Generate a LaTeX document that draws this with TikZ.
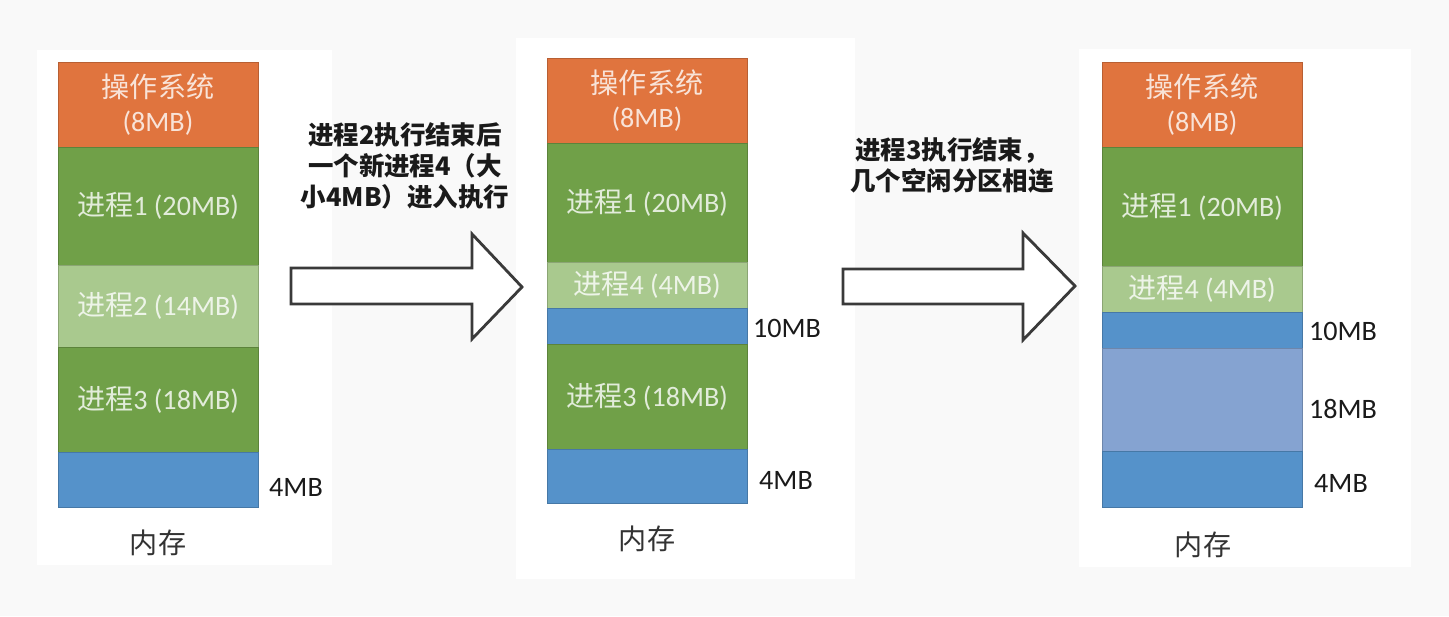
\documentclass[tikz,border=0pt]{standalone}
\usepackage{fontspec}
\setmainfont{Carlito}
\newfontfamily\cjk{Noto Sans CJK SC}
\usetikzlibrary{positioning}
\definecolor{bggray}{HTML}{F9F9F9}
\definecolor{osorange}{HTML}{E0743E}
\definecolor{procgreen}{HTML}{70A048}
\definecolor{newgreen}{HTML}{A9C98E}
\definecolor{freeblue}{HTML}{5592CA}
\definecolor{mergeblue}{HTML}{85A3D1}
\definecolor{txtdark}{HTML}{1A1A1A}
\definecolor{txtgray}{HTML}{333333}
\definecolor{arrgray}{HTML}{3A3A3A}

\newcommand{\zh}[1]{{\cjk #1}}

\begin{document}
\begin{tikzpicture}[
  x=0.02cm, y=-0.02cm,
  blk/.style={
    fill=#1, draw=#1!82!black, line width=0.3pt, outer sep=0pt,
    minimum width=4cm, inner sep=0pt, text=white, text opacity=0.8,
    align=center, font=\fontsize{16}{19.5}\selectfont
  },
  size/.style={font=\fontsize{16}{19}\selectfont, text=txtdark},
  caption/.style={font=\cjk\fontsize{16}{19}\selectfont, text=txtgray},
  note/.style={font=\cjk\bfseries\fontsize{14.5}{17.6}\selectfont,
    text=txtdark, align=center},
  bigarrow/.style={draw=arrgray, line width=1.6pt, fill=white, line join=miter},
]

% Background and panels
\fill[bggray] (0,0) rectangle (1449,616);
\fill[white] (37,50) rectangle (332,565);
\fill[white] (516,38) rectangle (855,579);
\fill[white] (1079,49) rectangle (1411,567);

% =============================================
% Memory before
% =============================================
\node[blk=osorange, minimum height=1.7cm] (os-a) at (158,104.5)
  {\zh{操作系统}\\(8MB)};
\node[blk=procgreen, minimum height=2.36cm, below=0pt of os-a] (p1-a)
  {\zh{进程}1 (20MB)};
\node[blk=newgreen, minimum height=1.64cm, below=0pt of p1-a] (p2-a)
  {\zh{进程}2 (14MB)};
\node[blk=procgreen, minimum height=2.1cm, below=0pt of p2-a] (p3-a)
  {\zh{进程}3 (18MB)};
\node[blk=freeblue, minimum height=1.1cm, below=0pt of p3-a] (free-a) {};

\node[size] (lbl4-a) at (296,487) {4MB};
\node[caption] (mem-a) at (158,543) {内存};

% Arrow 1
\node[note] (note-a) at (405,166)
  {进程2执行结束后\\一个新进程4（大\\小4MB）进入执行};
\draw[bigarrow] (291,268) -- (472,268) -- (472,234) -- (522,287)
  -- (472,339) -- (472,304) -- (291,304) -- cycle;

% =============================================
% Memory after process 4 loaded
% =============================================
\node[blk=osorange, minimum height=1.7cm] (os-b) at (647,100.5)
  {\zh{操作系统}\\(8MB)};
\node[blk=procgreen, minimum height=2.38cm, below=0pt of os-b] (p1-b)
  {\zh{进程}1 (20MB)};
\node[blk=newgreen, minimum height=0.92cm, below=0pt of p1-b] (p4-b)
  {\zh{进程}4 (4MB)};
\node[blk=freeblue, minimum height=0.72cm, below=0pt of p4-b] (free1-b) {};
\node[blk=procgreen, minimum height=2.1cm, below=0pt of free1-b] (p3-b)
  {\zh{进程}3 (18MB)};
\node[blk=freeblue, minimum height=1.08cm, below=0pt of p3-b] (free2-b) {};

\node[size] (lbl10-b) at (787,328) {10MB};
\node[size] (lbl4-b) at (786,480) {4MB};
\node[caption] (mem-b) at (647,539) {内存};

% Arrow 2
\node[note] (note-b) at (952,165.5)
  {进程3执行结束，\\几个空闲分区相连};
\draw[bigarrow] (843,269) -- (1023,269) -- (1023,233) -- (1075,286)
  -- (1023,340) -- (1023,304) -- (843,304) -- cycle;

% =============================================
% Memory after process 3 ends
% =============================================
\node[blk=osorange, minimum height=1.7cm] (os-c) at (1202,104.5)
  {\zh{操作系统}\\(8MB)};
\node[blk=procgreen, minimum height=2.38cm, below=0pt of os-c] (p1-c)
  {\zh{进程}1 (20MB)};
\node[blk=newgreen, minimum height=0.92cm, below=0pt of p1-c] (p4-c)
  {\zh{进程}4 (4MB)};
\node[blk=freeblue, minimum height=0.72cm, below=0pt of p4-c] (free1-c) {};
\node[blk=mergeblue, minimum height=2.06cm, below=0pt of free1-c] (free2-c) {};
\node[blk=freeblue, minimum height=1.12cm, below=0pt of free2-c] (free3-c) {};

\node[size] (lbl10-c) at (1343,331) {10MB};
\node[size] (lbl18-c) at (1343,409) {18MB};
\node[size] (lbl4-c) at (1341,483) {4MB};
\node[caption] (mem-c) at (1203,545) {内存};

\end{tikzpicture}
\end{document}
